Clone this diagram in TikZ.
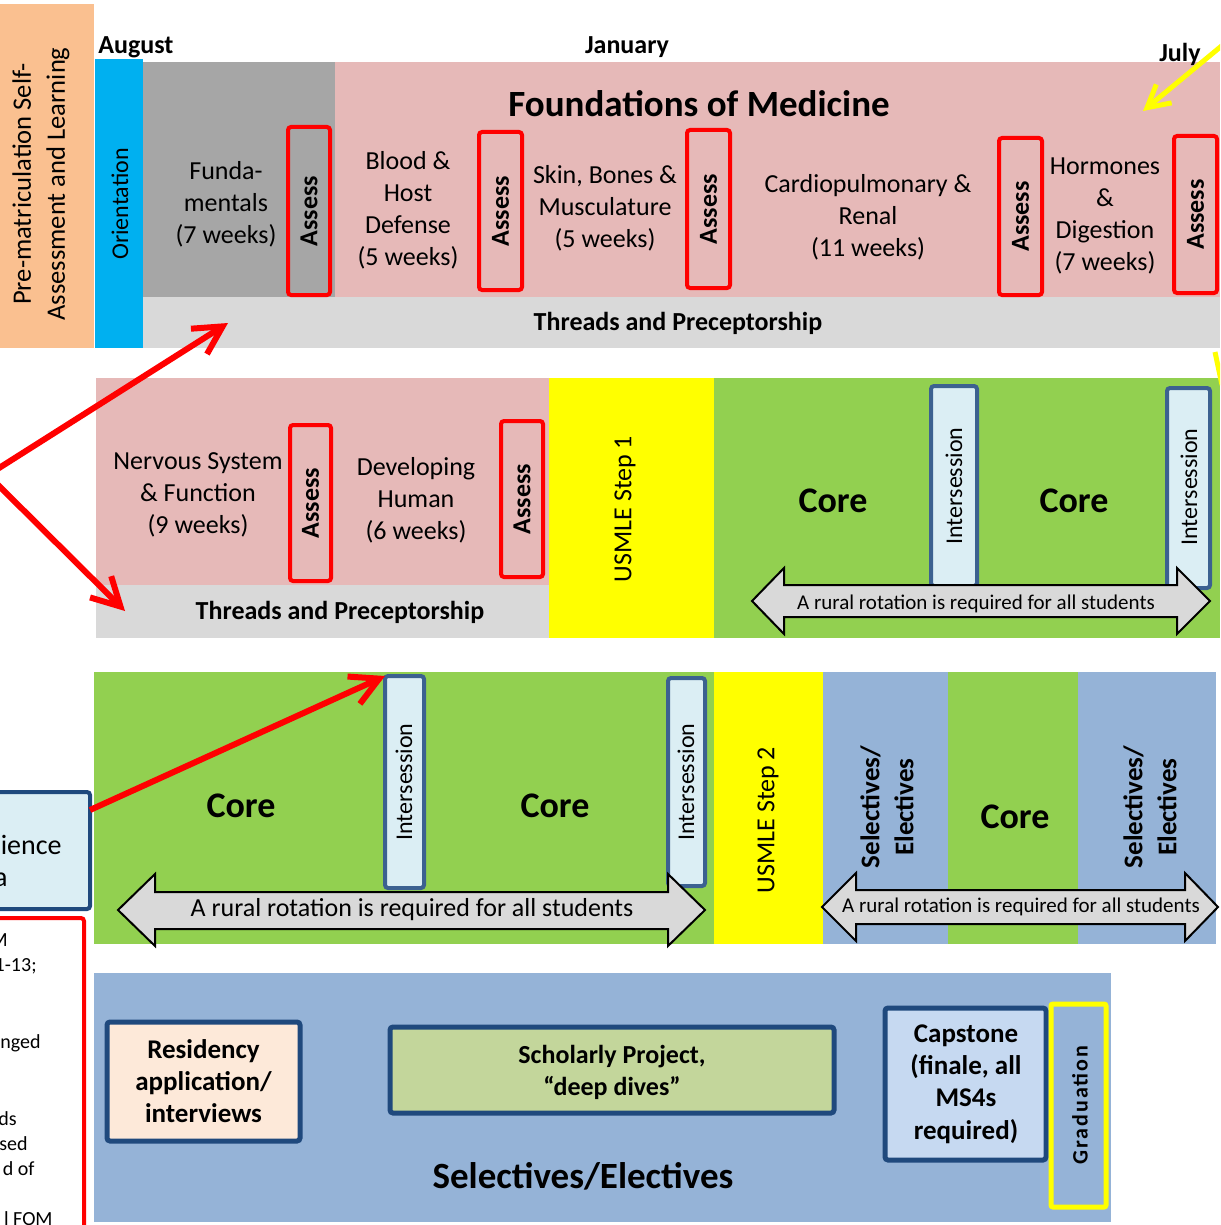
\documentclass[tikz,border=0pt]{standalone}
\usepackage{fontspec}
\setmainfont{Carlito}
\usetikzlibrary{fit,arrows.meta}
\definecolor{peach}{HTML}{FAC090}
\definecolor{orient}{HTML}{00B0F0}
\definecolor{fundgray}{HTML}{A6A6A6}
\definecolor{pinkband}{HTML}{E6B9B8}
\definecolor{thread}{HTML}{D9D9D9}
\definecolor{greenband}{HTML}{92D050}
\definecolor{yel}{HTML}{FFFF00}
\definecolor{interfill}{HTML}{DBEEF4}
\definecolor{interborder}{HTML}{3C6190}
\definecolor{blueband}{HTML}{95B3D7}
\definecolor{darkblue}{HTML}{1F497D}
\definecolor{resfill}{HTML}{FDE9D9}
\definecolor{schfill}{HTML}{C3D69B}
\definecolor{capfill}{HTML}{C6D9F1}
\begin{document}
\begin{tikzpicture}[x=0.5pt,y=-0.5pt,
  area/.style={inner sep=0pt, outer sep=0pt, draw=none},
  assessbox/.style={area, draw=red, line width=2pt, rounded corners=1.5pt},
  interbox/.style={area, draw=interborder, fill=interfill, line width=2pt, rounded corners=1.5pt},
  framebox/.style={area, draw=darkblue, line width=2.5pt, rounded corners=1.5pt},
  txt/.style={inner sep=0pt, align=center, font=\fontsize{13}{16}\selectfont},
  btxt/.style={inner sep=0pt, align=center, font=\bfseries\fontsize{13}{16}\selectfont},
  asslbl/.style={btxt, rotate=90},
  intlbl/.style={txt, rotate=90, font=\fontsize{12}{14}\selectfont},
  corelbl/.style={btxt, font=\bfseries\fontsize{18}{22}\selectfont},
  monthlbl/.style={btxt, font=\bfseries\fontsize{13}{16}\selectfont},
  threadlbl/.style={btxt, font=\bfseries\fontsize{13}{16}\selectfont},
  redarrow/.style={draw=red, line width=3pt, -{Straight Barb[length=14pt,width=15pt]}},
  yelarrow/.style={draw=yel, line width=2.5pt, -{Straight Barb[length=11pt,width=12pt]}},
  rural/.style={draw=black, line width=1pt, fill=thread, line join=miter},
  smalltxt/.style={inner sep=0pt, font=\fontsize{10}{12}\selectfont}
]
\useasboundingbox (0,0) rectangle (1220,1225);
\clip (0,0) rectangle (1220,1225);

% ---------- Row 1 ----------
\node[area, fill=peach, fit={(0,4)(94,348)}] (prem) {};
\node[txt, rotate=90, font=\fontsize{13.3}{17}\selectfont] (premtxt) at (41,184) {Pre-matriculation Self-\\Assessment and Learning};
\node[area, fill=thread, fit={(140,297)(1220,348)}] (thr1) {};
\node[area, fill=orient, fit={(95,59)(143,348)}] (orient) {};
\node[txt, rotate=90, font=\fontsize{12}{14}\selectfont] (orienttxt) at (120,204) {Orientation};
\node[area, fill=fundgray, fit={(143,62)(335,297)}] (fund) {};
\node[area, fill=pinkband, fit={(335,62)(1220,297)}] (fom) {};

\node[monthlbl, anchor=west] (aug) at (98,47) {August};
\node[monthlbl] (jan) at (627,47) {January};
\node[monthlbl] (jul) at (1180,54) {July};

\node[btxt, font=\bfseries\fontsize{18.5}{22}\selectfont] (fomtitle) at (699,104) {Foundations of Medicine};
\node[threadlbl] (thr1txt) at (678,323) {Threads and Preceptorship};

\node[txt] (fundtxt) at (226,204) {Funda-\\mentals\\(7 weeks)};
\node[txt] (bloodtxt) at (408,210) {Blood \&\\Host\\Defense\\(5 weeks)};
\node[txt] (skintxt) at (605,208) {Skin, Bones \&\\Musculature\\(5 weeks)};
\node[txt] (cardtxt) at (868,217) {Cardiopulmonary \&\\Renal\\(11 weeks)};
\node[txt] (hormtxt) at (1105,216) {Hormones\\\&\\Digestion\\(7 weeks)};

\node[assessbox, fit={(288,127)(330,295)}] (as1) {};
\node[asslbl] (as1t) at (as1.center) {Assess};
\node[assessbox, fit={(479,132)(522,290)}] (as2) {};
\node[asslbl] (as2t) at (as2.center) {Assess};
\node[assessbox, fit={(687,130)(730,288)}] (as3) {};
\node[asslbl] (as3t) at (as3.center) {Assess};
\node[assessbox, fit={(999,138)(1042,295)}] (as4) {};
\node[asslbl] (as4t) at (as4.center) {Assess};
\node[assessbox, fit={(1174,136)(1217,293)}] (as5) {};
\node[asslbl] (as5t) at (as5.center) {Assess};

% ---------- Row 2 ----------
\node[area, fill=pinkband, fit={(96,378)(549,585)}] (fom2) {};
\node[area, fill=thread, fit={(96,585)(549,638)}] (thr2) {};
\node[threadlbl] (thr2txt) at (340,612) {Threads and Preceptorship};
\node[txt] (nervtxt) at (198,495) {Nervous System\\\& Function\\(9 weeks)};
\node[txt] (devtxt) at (416,500) {Developing\\Human\\(6 weeks)};
\node[assessbox, fit={(290,425)(331,581)}] (as6) {};
\node[asslbl] (as6t) at (as6.center) {Assess};
\node[assessbox, fit={(501,421)(543,577)}] (as7) {};
\node[asslbl] (as7t) at (as7.center) {Assess};

\node[area, fill=yel, fit={(549,378)(714,638)}] (step1) {};
\node[txt, rotate=90] (step1txt) at (625,509) {USMLE Step 1};

\node[area, fill=greenband, fit={(714,378)(1220,638)}] (core2) {};
\node[corelbl] (core2a) at (833,501) {Core};
\node[corelbl] (core2b) at (1074,501) {Core};
\node[interbox, fit={(931,386)(977,586)}] (int1) {};
\node[intlbl] (int1t) at (954,486) {Intersession};
\node[interbox, fit={(1167,388)(1210,588)}] (int2) {};
\node[intlbl] (int2t) at (1189,487) {Intersession};

\draw[rural] (752,601) -- (784,568) -- (784,585) -- (1177,585) -- (1177,568) -- (1210,601)
  -- (1177,634) -- (1177,617) -- (784,617) -- (784,634) -- cycle;
\node[inner sep=0pt, font=\fontsize{10.5}{12}\selectfont] (rural1) at (976,604) {A rural rotation is required for all students};

% ---------- Row 3 ----------
\node[area, fill=greenband, fit={(94,672)(714,944)}] (core3) {};
\node[corelbl] (core3a) at (241,806) {Core};
\node[corelbl] (core3b) at (555,806) {Core};
\node[interbox, fit={(385,676)(424,888)}] (int3) {};
\node[intlbl] (int3t) at (404,782) {Intersession};
\node[interbox, fit={(668,678)(705,886)}] (int4) {};
\node[intlbl] (int4t) at (686,782) {Intersession};

\node[area, fill=yel, fit={(714,672)(823,944)}] (step2) {};
\node[txt, rotate=90] (step2txt) at (768,820) {USMLE Step 2};
\node[area, fill=blueband, fit={(823,672)(948,944)}] (sel1) {};
\node[area, fill=greenband, fit={(948,672)(1078,944)}] (core4) {};
\node[area, fill=blueband, fit={(1078,672)(1216,944)}] (sel2) {};
\node[btxt, rotate=90, font=\bfseries\fontsize{13.5}{17}\selectfont] (sel1t) at (887,807) {Selectives/\\Electives};
\node[btxt, rotate=90, font=\bfseries\fontsize{13.5}{17}\selectfont] (sel2t) at (1150,807) {Selectives/\\Electives};
\node[corelbl] (core4t) at (1015,817) {Core};

\draw[rural] (118,910) -- (155,874) -- (155,892) -- (668,892) -- (668,874) -- (705,910)
  -- (668,946) -- (668,929) -- (155,929) -- (155,946) -- cycle;
\node[inner sep=0pt, font=\fontsize{13}{15}\selectfont] (rural2) at (412,910) {A rural rotation is required for all students};
\draw[rural] (822,907) -- (856,873) -- (856,890) -- (1185,890) -- (1185,873) -- (1218,907)
  -- (1185,941) -- (1185,924) -- (856,924) -- (856,941) -- cycle;
\node[inner sep=0pt, font=\fontsize{10.5}{12}\selectfont] (rural3) at (1021,907) {A rural rotation is required for all students};

% left partial boxes
\node[area, draw=darkblue, fill=interfill, line width=2pt, rounded corners=1.5pt, fit={(-20,792)(90,909)}] (sci) {};
\node[inner sep=0pt, font=\fontsize{14}{16}\selectfont, anchor=mid east] (scia) at (62,850) {ience};
\node[inner sep=0pt, font=\fontsize{14}{16}\selectfont, anchor=mid east] (scib) at (8,882) {a};
\node[area, draw=red, fill=white, line width=2pt, rounded corners=1.5pt, fit={(-20,918)(84,1250)}] (note) {};
\node[smalltxt, anchor=mid east] (n1) at (8,942) {M};
\node[smalltxt, anchor=mid east] (n2) at (37,967) {1-13;};
\node[smalltxt, anchor=mid east] (n3) at (41,1044) {nged};
\node[smalltxt, anchor=mid east] (n4) at (17,1121) {ds};
\node[smalltxt, anchor=mid east] (n5) at (28,1146) {sed};
\node[smalltxt, anchor=mid east] (n6) at (35,1171) {d of};
\node[smalltxt, anchor=mid east] (n7) at (53,1221) {l FOM};

% ---------- Row 4 ----------
\node[area, fill=blueband, fit={(94,973)(1111,1222)}] (sel4) {};
\node[framebox, fill=resfill, fit={(107,1022)(300,1141)}] (res) {};
\node[btxt, font=\bfseries\fontsize{13.5}{16}\selectfont] (restxt) at (res.center) {Residency\\application/\\interviews};
\node[framebox, fill=schfill, fit={(390,1027)(834,1113)}] (sch) {};
\node[btxt] (schtxt) at (612,1072) {Scholarly Project,\\“deep dives”};
\node[framebox, fill=capfill, fit={(885,1008)(1046,1160)}] (cap) {};
\node[btxt, font=\bfseries\fontsize{13.5}{16.2}\selectfont] (captxt) at (966,1084) {Capstone\\(finale, all\\MS4s\\required)};
\node[area, draw=yel, line width=2.5pt, rounded corners=1pt, fit={(1051,1004)(1106,1207)}] (grad) {};
\node[btxt, rotate=90, font=\bfseries\fontsize{11}{13}\selectfont\addfontfeature{LetterSpace=9}] (gradtxt) at (1080,1105) {Graduation};
\node[btxt, font=\bfseries\fontsize{18.5}{22}\selectfont] (seltxt) at (583,1176) {Selectives/Electives};

% ---------- Connectors ----------
\coordinate (src) at (-12,475);
\coordinate (tgt1) at (228,323);
\coordinate (tgt2) at (125,611);
\draw[redarrow] (src) -- (tgt1);
\draw[redarrow] (src) -- (tgt2);
\draw[redarrow] (sci.east |- 0,810) -- (int3.north west);
\coordinate (ysrc) at (1236,34);
\coordinate (ytgt) at (1143,111);
\draw[yelarrow] (ysrc) -- (ytgt);
\coordinate (ys2) at (1215,352);
\coordinate (ye2) at (1222,385);
\draw[draw=yel, line width=2.5pt] (ys2) -- (ye2);
\end{tikzpicture}
\end{document}
